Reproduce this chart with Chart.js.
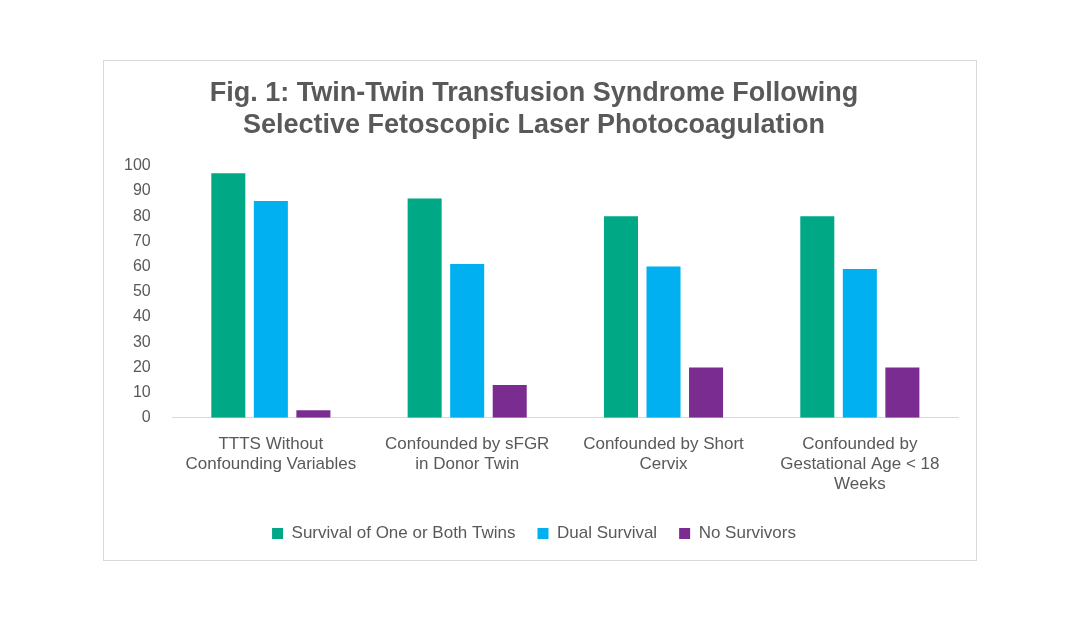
<!DOCTYPE html>
<html><head><meta charset="utf-8">
<script src="https://cdn.jsdelivr.net/npm/chart.js@4"></script>
<style>
html,body{margin:0;padding:0;background:#fff;width:1080px;height:621px;overflow:hidden}
#box{position:absolute;left:103px;top:60px;width:872px;height:499px;border:1px solid #d9d9d9;background:#fff}
</style></head><body>
<div id="box"><canvas id="c" width="872" height="499"></canvas></div>
<script>
const categories=[["TTTS Without","Confounding Variables"],["Confounded by sFGR","in Donor Twin"],["Confounded by Short","Cervix"],["Confounded by","Gestational Age < 18","Weeks"]];
const seriesNames=["Survival of One or Both Twins","Dual Survival","No Survivors"];
const survivalOne=[97,87,80,80];
const dualSurvival=[86,61,60,59];
const noSurvivors=[3,13,20,20];
const colors=["#00A886","#00B0F0","#7B2C91"];
const grey="#595959";
const ff="'Liberation Sans', Arial, sans-serif";
new Chart(document.getElementById('c'),{
type:'bar',
data:{labels:categories,datasets:[
{label:seriesNames[0],data:survivalOne,backgroundColor:colors[0]},
{label:seriesNames[1],data:dualSurvival,backgroundColor:colors[1]},
{label:seriesNames[2],data:noSurvivors,backgroundColor:colors[2]}]},
options:{responsive:false,animation:false,
categoryPercentage:0.65,barPercentage:0.8,
layout:{padding:{left:6,right:18,top:12,bottom:8}},
plugins:{
title:{display:true,text:["Fig. 1: Twin-Twin Transfusion Syndrome Following","Selective Fetoscopic Laser Photocoagulation"],color:grey,font:{family:ff,size:27,weight:'bold'},lineHeight:1.2,padding:{top:4,bottom:24}},
legend:{position:'bottom',labels:{color:grey,font:{family:ff,size:17},boxWidth:11,boxHeight:11,padding:22}},
tooltip:{enabled:false}},
scales:{
y:{min:0,max:100,ticks:{stepSize:10,color:grey,font:{family:ff,size:16},padding:14},grid:{display:false},border:{display:false}},
x:{ticks:{color:grey,font:{family:ff,size:17},maxRotation:0,padding:8},grid:{display:false},border:{color:"#d9d9d9"}}
}}});
</script></body></html>
